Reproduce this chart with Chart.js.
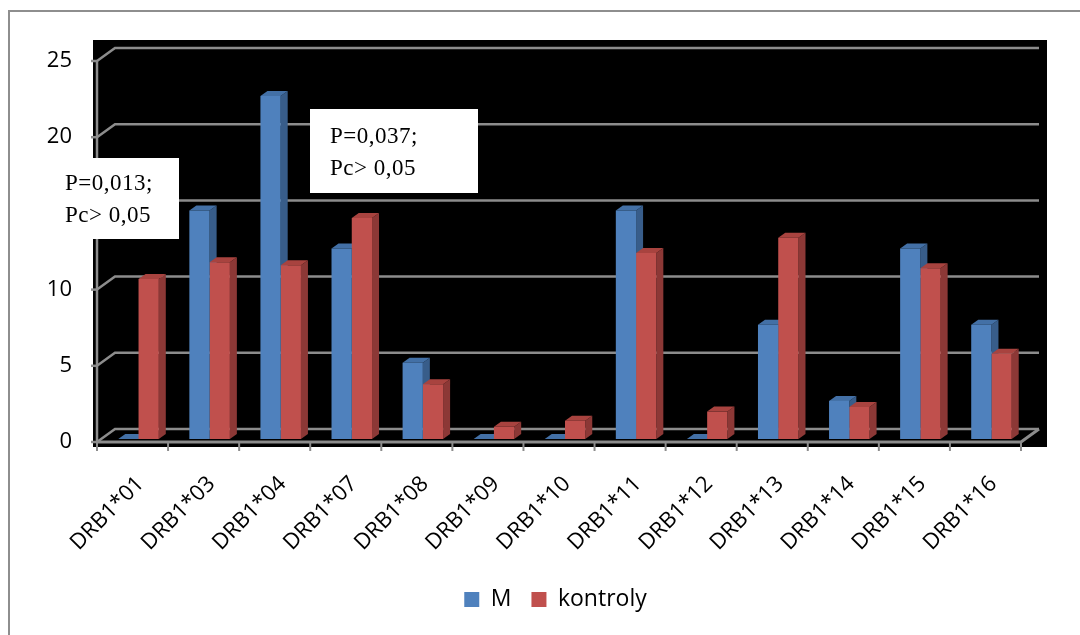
<!DOCTYPE html>
<html>
<head>
<meta charset="utf-8">
<script src="https://cdn.jsdelivr.net/npm/chart.js@4.4.0/dist/chart.umd.min.js"></script>
<style>
  html, body { margin: 0; padding: 0; background: #ffffff; }
  #wrap { position: relative; width: 1080px; height: 635px; }
  canvas { display: block; }
</style>
</head>
<body>
<div id="wrap"><canvas id="chart" width="1080" height="635"></canvas></div>
<script>
// ---- data ----
const categories = ['DRB1*01', 'DRB1*03', 'DRB1*04', 'DRB1*07', 'DRB1*08', 'DRB1*09', 'DRB1*10',
                    'DRB1*11', 'DRB1*12', 'DRB1*13', 'DRB1*14', 'DRB1*15', 'DRB1*16'];
const seriesNames = ['M', 'kontroly'];
const valuesM        = [0, 15, 22.5, 12.5, 5, 0, 0, 15, 0, 7.5, 2.5, 12.5, 7.5];
const valuesKontroly = [10.5, 11.6, 11.4, 14.5, 3.6, 0.8, 1.2, 12.2, 1.8, 13.2, 2.1, 11.2, 5.6];
const yTickValues = [0, 5, 10, 15, 20, 25];
const noteLeft  = ['P=0,013;', 'Pc> 0,05'];
const noteRight = ['P=0,037;', 'Pc> 0,05'];

// ---- styling ----
const frontColors = ['#4F81BD', '#C0504D'];
const sideColors  = ['#385D8A', '#8C3836'];
const topColors   = ['#4370A6', '#A8433F'];
const gridColor = '#8C8C8C';
const sansFont = "'Open Sans', 'Noto Sans', sans-serif";
const serifFont = "'Liberation Serif', 'DejaVu Serif', serif";

// wall / bar depth offsets relative to the plane of the bar fronts
const BACK  = { dx: 12, dy: -10 };
const FRONT = { dx: -6, dy: 3 };
const BAR_DEPTH = { dx: 7, dy: -5 };
const LEGEND_SHIFT = 84;   // legend sits right of the canvas centre

function poly(ctx, pts, fill) {
  ctx.beginPath();
  ctx.moveTo(pts[0][0], pts[0][1]);
  for (let i = 1; i < pts.length; i++) ctx.lineTo(pts[i][0], pts[i][1]);
  ctx.closePath();
  ctx.fillStyle = fill;
  ctx.fill();
}

const scene3d = {
  id: 'scene3d',
  afterLayout(chart) {
    if (chart.legend) chart.legend.left += LEGEND_SHIFT;
  },
  beforeDraw(chart) {
    const { ctx, chartArea: a } = chart;
    ctx.save();
    // outer frame
    ctx.strokeStyle = '#8E8E8E';
    ctx.lineWidth = 2;
    ctx.beginPath();
    ctx.moveTo(9, 635);
    ctx.lineTo(9, 11);
    ctx.lineTo(1080, 11);
    ctx.stroke();
    // plot area fill
    ctx.fillStyle = '#000000';
    ctx.fillRect(a.left - 10, a.top - 18, (a.right + 20) - (a.left - 10), (a.bottom + 8) - (a.top - 18));
    ctx.restore();
  },
  beforeDatasetsDraw(chart) {
    const { ctx, chartArea: a } = chart;
    const ys = chart.scales.y;
    ctx.save();
    ctx.strokeStyle = gridColor;
    ctx.lineWidth = 2.5;
    ctx.lineCap = 'butt';

    // back-wall gridlines with the side-wall diagonals
    ys.ticks.forEach(t => {
      const py = ys.getPixelForValue(t.value);
      ctx.beginPath();
      ctx.moveTo(a.left + FRONT.dx, py + FRONT.dy);
      ctx.lineTo(a.left + BACK.dx, py + BACK.dy);
      ctx.lineTo(a.right + BACK.dx, py + BACK.dy);
      ctx.stroke();
      // tick mark on the value axis
      ctx.beginPath();
      ctx.moveTo(a.left + FRONT.dx - 6, py + FRONT.dy);
      ctx.lineTo(a.left + FRONT.dx, py + FRONT.dy);
      ctx.stroke();
    });

    // value axis line
    ctx.beginPath();
    ctx.moveTo(a.left + FRONT.dx, ys.getPixelForValue(ys.max) + FRONT.dy);
    ctx.lineTo(a.left + FRONT.dx, a.bottom + FRONT.dy);
    ctx.stroke();

    // floor: front edge and right edge
    ctx.lineWidth = 3;
    ctx.beginPath();
    ctx.moveTo(a.left + FRONT.dx, a.bottom + FRONT.dy);
    ctx.lineTo(a.right + FRONT.dx, a.bottom + FRONT.dy);
    ctx.lineTo(a.right + BACK.dx, a.bottom + BACK.dy);
    ctx.stroke();

    // category tick marks
    ctx.lineWidth = 2;
    const step = (a.right - a.left) / categories.length;
    for (let i = 0; i <= categories.length; i++) {
      const x = a.left + FRONT.dx + i * step;
      ctx.beginPath();
      ctx.moveTo(x, a.bottom + FRONT.dy);
      ctx.lineTo(x, a.bottom + FRONT.dy + 9);
      ctx.stroke();
    }

    // bar sides and tops (fronts are drawn by the bar controller afterwards)
    const n = chart.data.labels.length;
    for (let j = 0; j < n; j++) {
      chart.data.datasets.forEach((ds, di) => {
        const el = chart.getDatasetMeta(di).data[j];
        if (!el) return;
        const p = el.getProps(['x', 'y', 'base', 'width'], true);
        const l = p.x - p.width / 2, r = p.x + p.width / 2;
        poly(ctx, [[r, p.y], [r + BAR_DEPTH.dx, p.y + BAR_DEPTH.dy],
                   [r + BAR_DEPTH.dx, p.base + BAR_DEPTH.dy], [r, p.base]], sideColors[di]);
        poly(ctx, [[l, p.y], [l + BAR_DEPTH.dx, p.y + BAR_DEPTH.dy],
                   [r + BAR_DEPTH.dx, p.y + BAR_DEPTH.dy], [r, p.y]], topColors[di]);
      });
    }
    ctx.restore();
  },
  afterDraw(chart) {
    const { ctx } = chart;
    ctx.save();
    const drawNote = (box, lines, tx, ty) => {
      ctx.fillStyle = '#ffffff';
      ctx.fillRect(box[0], box[1], box[2], box[3]);
      ctx.fillStyle = '#000000';
      ctx.font = '23px ' + serifFont;
      ctx.textBaseline = 'alphabetic';
      ctx.textAlign = 'left';
      if ('letterSpacing' in ctx) ctx.letterSpacing = '0.5px';
      lines.forEach((s, i) => ctx.fillText(s, tx, ty + i * 32));
    };
    drawNote([40, 158, 139, 81], noteLeft, 65, 190);
    drawNote([310, 109, 168, 84], noteRight, 330, 143);
    ctx.restore();
  }
};

new Chart(document.getElementById('chart'), {
  type: 'bar',
  data: {
    labels: categories,
    datasets: [
      { label: seriesNames[0], data: valuesM, backgroundColor: frontColors[0] },
      { label: seriesNames[1], data: valuesKontroly, backgroundColor: frontColors[1] }
    ]
  },
  options: {
    responsive: false,
    animation: false,
    devicePixelRatio: 1,
    layout: { padding: { top: 58, left: 0, right: 53, bottom: 14 } },
    datasets: { bar: { categoryPercentage: 0.57, barPercentage: 1.0, borderWidth: 0 } },
    plugins: {
      tooltip: { enabled: false },
      legend: {
        position: 'bottom',
        labels: {
          boxWidth: 15, boxHeight: 15, padding: 20,
          color: '#000000',
          font: { family: sansFont, size: 23 }
        }
      }
    },
    scales: {
      x: {
        grid: { display: false },
        border: { display: false },
        ticks: {
          minRotation: 45, maxRotation: 45, autoSkip: false,
          color: '#000000', padding: 24, labelOffset: 2,
          font: { family: sansFont, size: 22 }
        },
        afterFit(s) { s.height = 129; }
      },
      y: {
        min: 0, max: 25,
        afterBuildTicks(s) { s.ticks = yTickValues.map(v => ({ value: v })); },
        grid: { display: false },
        border: { display: false },
        ticks: {
          color: '#000000', padding: 23, labelOffset: 3,
          font: { family: sansFont, size: 22 }
        },
        afterFit(s) { s.width = 103; }
      }
    }
  },
  plugins: [scene3d]
});
</script>
</body>
</html>
